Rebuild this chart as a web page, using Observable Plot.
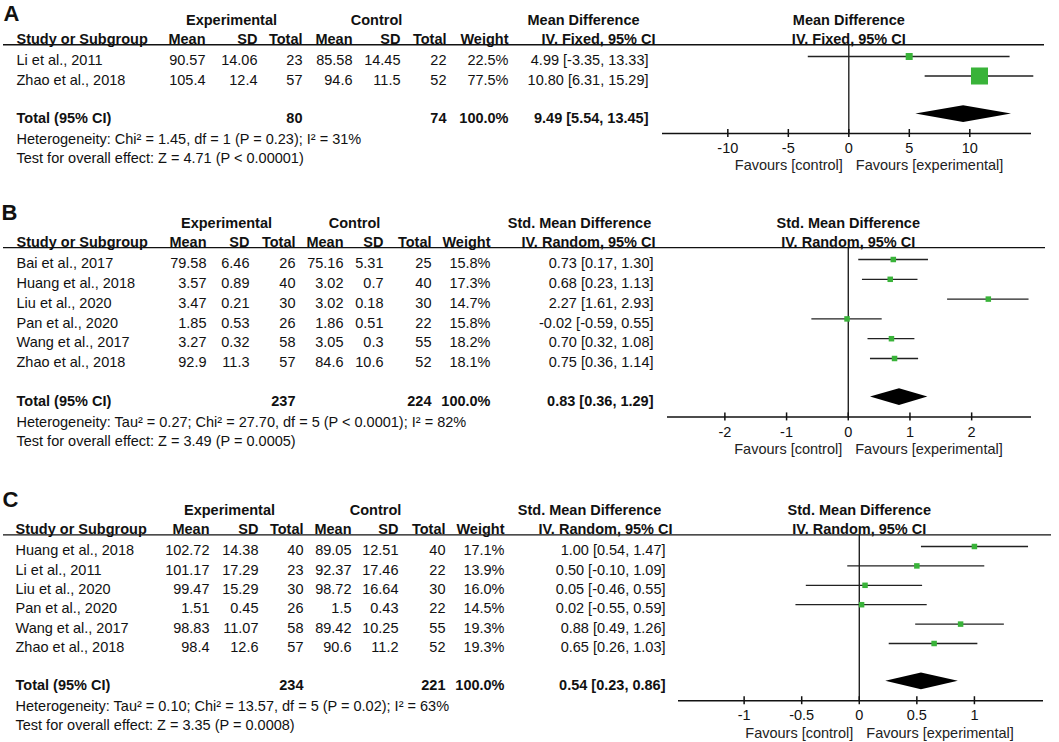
<!DOCTYPE html>
<html><head><meta charset="utf-8">
<script src="https://cdn.jsdelivr.net/npm/d3@7"></script>
<script src="https://cdn.jsdelivr.net/npm/@observablehq/plot@0.6"></script>
<style>
html,body{margin:0;padding:0;background:#fff;}
#chart{width:1059px;}
#chart svg{display:block;}
</style></head><body><div id="chart"></div>
<script>
// ---------- Panel A data ----------
const studyA   = ["Li et al., 2011", "Zhao et al., 2018"];
const expMeanA = [90.57, 105.4];
const expSdA   = [14.06, 12.4];
const expNA    = [23, 57];
const ctlMeanA = [85.58, 94.6];
const ctlSdA   = [14.45, 11.5];
const ctlNA    = [22, 52];
const weightA  = [22.5, 77.5];
const estA     = [4.99, 10.80];
const loA      = [-3.35, 6.31];
const hiA      = [13.33, 15.29];
const totalNA  = [80, 74];
const totalEffA = [9.49, 5.54, 13.45];
const hetA  = "Heterogeneity: Chi² = 1.45, df = 1 (P = 0.23); I² = 31%";
const testA = "Test for overall effect: Z = 4.71 (P < 0.00001)";
const ticksA = [-10, -5, 0, 5, 10];

// ---------- Panel B data ----------
const studyB   = ["Bai et al., 2017", "Huang et al., 2018", "Liu et al., 2020", "Pan et al., 2020", "Wang et al., 2017", "Zhao et al., 2018"];
const expMeanB = [79.58, 3.57, 3.47, 1.85, 3.27, 92.9];
const expSdB   = [6.46, 0.89, 0.21, 0.53, 0.32, 11.3];
const expNB    = [26, 40, 30, 26, 58, 57];
const ctlMeanB = [75.16, 3.02, 3.02, 1.86, 3.05, 84.6];
const ctlSdB   = [5.31, 0.7, 0.18, 0.51, 0.3, 10.6];
const ctlNB    = [25, 40, 30, 22, 55, 52];
const weightB  = [15.8, 17.3, 14.7, 15.8, 18.2, 18.1];
const estB     = [0.73, 0.68, 2.27, -0.02, 0.70, 0.75];
const loB      = [0.17, 0.23, 1.61, -0.59, 0.32, 0.36];
const hiB      = [1.30, 1.13, 2.93, 0.55, 1.08, 1.14];
const totalNB  = [237, 224];
const totalEffB = [0.83, 0.36, 1.29];
const hetB  = "Heterogeneity: Tau² = 0.27; Chi² = 27.70, df = 5 (P < 0.0001); I² = 82%";
const testB = "Test for overall effect: Z = 3.49 (P = 0.0005)";
const ticksB = [-2, -1, 0, 1, 2];

// ---------- Panel C data ----------
const studyC   = ["Huang et al., 2018", "Li et al., 2011", "Liu et al., 2020", "Pan et al., 2020", "Wang et al., 2017", "Zhao et al., 2018"];
const expMeanC = [102.72, 101.17, 99.47, 1.51, 98.83, 98.4];
const expSdC   = [14.38, 17.29, 15.29, 0.45, 11.07, 12.6];
const expNC    = [40, 23, 30, 26, 58, 57];
const ctlMeanC = [89.05, 92.37, 98.72, 1.5, 89.42, 90.6];
const ctlSdC   = [12.51, 17.46, 16.64, 0.43, 10.25, 11.2];
const ctlNC    = [40, 22, 30, 22, 55, 52];
const weightC  = [17.1, 13.9, 16.0, 14.5, 19.3, 19.3];
const estC     = [1.00, 0.50, 0.05, 0.02, 0.88, 0.65];
const loC      = [0.54, -0.10, -0.46, -0.55, 0.49, 0.26];
const hiC      = [1.47, 1.09, 0.55, 0.59, 1.26, 1.03];
const totalNC  = [234, 221];
const totalEffC = [0.54, 0.23, 0.86];
const hetC  = "Heterogeneity: Tau² = 0.10; Chi² = 13.57, df = 5 (P = 0.02); I² = 63%";
const testC = "Test for overall effect: Z = 3.35 (P = 0.0008)";
const ticksC = [-1, -0.5, 0, 0.5, 1];

const groupHeaders = ["Experimental", "Control"];
const colHeaders = ["Mean", "SD", "Total", "Mean", "SD", "Total", "Weight"];

// ---------- drawing ----------
const FONT = "'Liberation Sans', Arial, Helvetica, sans-serif";
const INK = "#111";
const GREEN = "#39b339";
const FS = 14.5;

function panel(d, L) {
  const n = d.study.length;
  const idx = d3.range(n);
  const TD = 4;
  const yG = -2.05, yH = -1.07, yRule = -0.6;
  const yTot = n + 0.95, yAxis = n + 1.95, yHet = n + 2.02, yTest = n + 3.0, yTick = n + 2.52, yFav = n + 3.4;
  const tick = 4 / L.step;
  const txt = (data, o) => Plot.text(data, {fontSize: FS, fill: INK, dy: TD, ...o});
  const colText = (arr, px) => txt(idx, {y: i => i, text: i => String(arr[i]), frameAnchor: "left", dx: px, textAnchor: "end"});
  const [tEst, tLo, tHi] = d.totalEff;
  const dh = 8.4 / L.step;
  const diamond = [
    {y: yTot - dh, x1: tEst, x2: tEst},
    {y: yTot, x1: tLo, x2: tHi},
    {y: yTot + dh, x1: tEst, x2: tEst}
  ];
  const fmt2 = v => v.toFixed(2);
  const marks = [];
  // panel letter
  marks.push(Plot.text([d.label], {text: t => t, frameAnchor: "top-left", dx: L.labelX, dy: L.labelY, fontSize: 22, fontWeight: "bold", fill: INK, textAnchor: "start", lineAnchor: "middle"}));
  // group headers
  marks.push(txt([groupHeaders[0]], {y: yG, text: t => t, frameAnchor: "left", dx: L.expX, textAnchor: "middle", fontWeight: "bold"}));
  marks.push(txt([groupHeaders[1]], {y: yG, text: t => t, frameAnchor: "left", dx: L.ctlX, textAnchor: "middle", fontWeight: "bold"}));
  marks.push(txt([d.effHead1], {y: yG, text: t => t, frameAnchor: "left", dx: L.effH1, textAnchor: "middle", fontWeight: "bold"}));
  marks.push(txt([d.effHead2], {y: yH, text: t => t, frameAnchor: "left", dx: L.effH2, textAnchor: "middle", fontWeight: "bold"}));
  marks.push(txt([0], {x: v => v, y: yG, text: () => d.effHead1, textAnchor: "middle", fontWeight: "bold"}));
  marks.push(txt([0], {x: v => v, y: yH, text: () => d.effHead2, textAnchor: "middle", fontWeight: "bold"}));
  // column headers
  marks.push(txt(["Study or Subgroup"], {y: yH, text: t => t, frameAnchor: "left", dx: L.studyX, textAnchor: "start", fontWeight: "bold"}));
  colHeaders.forEach((h, k) => marks.push(txt([h], {y: yH, text: t => t, frameAnchor: "left", dx: L.cols[k], textAnchor: "end", fontWeight: "bold"})));
  // header rule
  marks.push(Plot.ruleY([yRule], {y: v => v, insetLeft: 3, insetRight: L.ruleInsetRight, stroke: INK, strokeWidth: 1.4}));
  // study rows
  marks.push(txt(idx, {y: i => i, text: i => d.study[i], frameAnchor: "left", dx: L.studyX, textAnchor: "start"}));
  marks.push(colText(d.expMean, L.cols[0]));
  marks.push(colText(d.expSd, L.cols[1]));
  marks.push(colText(d.expN, L.cols[2]));
  marks.push(colText(d.ctlMean, L.cols[3]));
  marks.push(colText(d.ctlSd, L.cols[4]));
  marks.push(colText(d.ctlN, L.cols[5]));
  marks.push(txt(idx, {y: i => i, text: i => d.weight[i].toFixed(1) + "%", frameAnchor: "left", dx: L.cols[6], textAnchor: "end"}));
  marks.push(txt(idx, {y: i => i, text: i => `${fmt2(d.est[i])} [${fmt2(d.lo[i])}, ${fmt2(d.hi[i])}]`, frameAnchor: "left", dx: L.effX, textAnchor: "end"}));
  // total row
  marks.push(txt(["Total (95% CI)"], {y: yTot, text: t => t, frameAnchor: "left", dx: L.studyX, textAnchor: "start", fontWeight: "bold"}));
  marks.push(txt([d.totalN[0]], {y: yTot, text: v => String(v), frameAnchor: "left", dx: L.cols[2], textAnchor: "end", fontWeight: "bold"}));
  marks.push(txt([d.totalN[1]], {y: yTot, text: v => String(v), frameAnchor: "left", dx: L.cols[5], textAnchor: "end", fontWeight: "bold"}));
  marks.push(txt([d3.sum(d.weight)], {y: yTot, text: v => (Math.round(v / 10) * 10).toFixed(1) + "%", frameAnchor: "left", dx: L.cols[6], textAnchor: "end", fontWeight: "bold"}));
  marks.push(txt([d.totalEff], {y: yTot, text: t => `${fmt2(t[0])} [${fmt2(t[1])}, ${fmt2(t[2])}]`, frameAnchor: "left", dx: L.effX, textAnchor: "end", fontWeight: "bold"}));
  // heterogeneity / test
  marks.push(txt([d.het], {y: yHet, text: t => t, frameAnchor: "left", dx: L.studyX, textAnchor: "start"}));
  marks.push(txt([d.test], {y: yTest, text: t => t, frameAnchor: "left", dx: L.studyX, textAnchor: "start"}));
  // forest: zero line, axis, ticks
  marks.push(Plot.ruleX([0], {x: v => v, y1: yRule, y2: yAxis, stroke: INK, strokeWidth: 1.3}));
  marks.push(Plot.ruleY([yAxis], {y: v => v, x1: L.xDomain[0], x2: L.xDomain[1], stroke: INK, strokeWidth: 1.5}));
  marks.push(Plot.ruleX(d.ticks, {x: v => v, y1: yAxis - tick, y2: yAxis + tick, stroke: INK, strokeWidth: 1.5}));
  marks.push(txt(d.ticks, {x: v => v, y: yTick, text: v => String(v), textAnchor: "middle"}));
  marks.push(txt(["Favours [control]"], {x: () => 0, y: yFav, text: t => t, dx: -6, textAnchor: "end", fill: "#222"}));
  marks.push(txt(["Favours [experimental]"], {x: () => 0, y: yFav, text: t => t, dx: 7, textAnchor: "start", fill: "#222"}));
  // CIs, squares, diamond
  marks.push(Plot.ruleY(idx, {y: i => i, x1: i => d.lo[i], x2: i => d.hi[i], stroke: "#222", strokeWidth: 1.3}));
  if (L.sizeByWeight) {
    marks.push(Plot.dot(idx, {x: i => d.est[i], y: i => i, r: i => d.weight[i], symbol: "square", fill: GREEN, stroke: "none"}));
  } else {
    marks.push(Plot.dot(idx, {x: i => d.est[i], y: i => i, r: 3.1, symbol: "square", fill: GREEN, stroke: "none"}));
  }
  marks.push(Plot.areaX(diamond, {y: "y", x1: "x1", x2: "x2", fill: "#000", curve: "linear"}));

  return Plot.plot({
    width: 1059,
    height: L.height,
    marginLeft: 0, marginRight: 0, marginTop: 0, marginBottom: 0,
    style: {fontFamily: FONT, fontSize: FS + "px", background: "#fff", color: INK, overflow: "visible"},
    x: {domain: L.xDomain, range: L.xRange, axis: null},
    y: {domain: [0, 1], range: [L.row0, L.row0 + L.step], axis: null},
    r: {type: "linear", domain: [0, 80], range: [1.64, 9.86]},
    marks
  });
}

const chart = document.getElementById("chart");
chart.appendChild(panel(
  {label: "A", study: studyA, expMean: expMeanA, expSd: expSdA, expN: expNA, ctlMean: ctlMeanA, ctlSd: ctlSdA, ctlN: ctlNA,
   weight: weightA, est: estA, lo: loA, hi: hiA, totalN: totalNA, totalEff: totalEffA, het: hetA, test: testA, ticks: ticksA,
   effHead1: "Mean Difference", effHead2: "IV. Fixed, 95% CI"},
  {height: 176, row0: 56, step: 19.5, labelX: 3, labelY: 13, studyX: 16,
   cols: [205, 257, 302, 352, 400, 446, 508], effX: 648, expX: 231, ctlX: 376, effH1: 583, effH2: 598,
   ruleInsetRight: 15, xDomain: [-15.4, 15.1], xRange: [662, 1031], sizeByWeight: true}
));
chart.appendChild(panel(
  {label: "B", study: studyB, expMean: expMeanB, expSd: expSdB, expN: expNB, ctlMean: ctlMeanB, ctlSd: ctlSdB, ctlN: ctlNB,
   weight: weightB, est: estB, lo: loB, hi: hiB, totalN: totalNB, totalEff: totalEffB, het: hetB, test: testB, ticks: ticksB,
   effHead1: "Std. Mean Difference", effHead2: "IV. Random, 95% CI"},
  {height: 286, row0: 83, step: 19.8, labelX: 1, labelY: 36, studyX: 16,
   cols: [206, 249, 295, 343, 383, 431, 490], effX: 653, expX: 226, ctlX: 354, effH1: 579, effH2: 588,
   ruleInsetRight: 14, xDomain: [-2.93, 2.97], xRange: [667, 1031], sizeByWeight: false}
));
chart.appendChild(panel(
  {label: "C", study: studyC, expMean: expMeanC, expSd: expSdC, expN: expNC, ctlMean: ctlMeanC, ctlSd: ctlSdC, ctlN: ctlNC,
   weight: weightC, est: estC, lo: loC, hi: hiC, totalN: totalNC, totalEff: totalEffC, het: hetC, test: testC, ticks: ticksC,
   effHead1: "Std. Mean Difference", effHead2: "IV. Random, 95% CI"},
  {height: 280, row0: 84, step: 19.4, labelX: 2, labelY: 37, studyX: 15,
   cols: [209, 258, 303, 351, 398, 445, 504], effX: 665, expX: 229, ctlX: 375, effH1: 589, effH2: 605,
   ruleInsetRight: 8, xDomain: [-1.57, 1.6], xRange: [678, 1043], sizeByWeight: false}
));
</script>
</body></html>
